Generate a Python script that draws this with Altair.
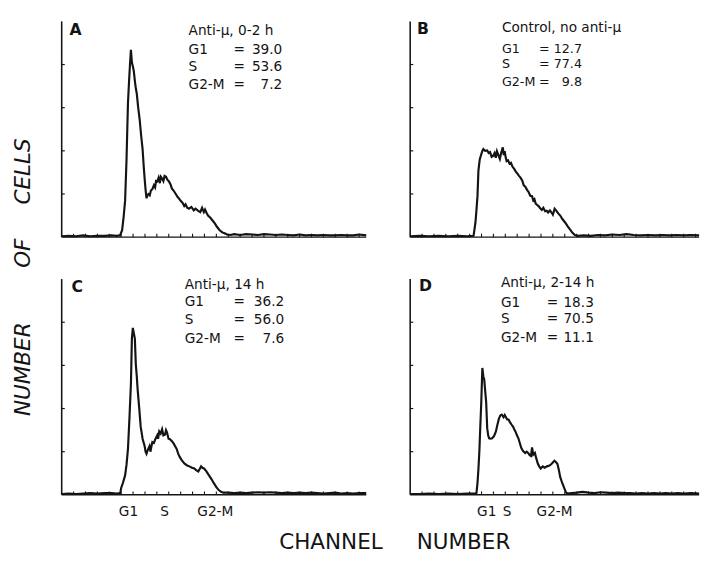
import altair as alt
import pandas as pd

INK = "#141414"
FONT = "DejaVu Sans"

# ---------------- data (channel number, relative cell count) ----------------
A_ch = [0, 6, 12, 18, 24, 30, 36, 42, 46, 49, 50.8, 52, 53.3, 54.5, 55.7, 56.6, 57.4, 58.2, 59, 59.8,
        60.6, 61.5, 62.3, 63.1, 64.3, 65.6, 66.8, 68.0, 69.0, 69.7, 70.5, 71.3, 72.2, 73.0, 74.0, 75.0,
        76.2, 77.5, 78.5, 79.3, 80.3, 81.5, 82.5, 83.4, 84.4, 85.5, 86.5, 87.7, 88.8, 90.2, 91.5, 92.6,
        94, 95.9, 97.5, 99, 100, 101.5, 103, 104.1, 105.5, 107, 109, 111, 112.5, 114.8, 116.5, 118,
        119.5, 120.5, 121.8, 123, 125, 127, 128.7, 130.5, 132.8, 135, 136.9, 139, 141.8, 145, 150, 155,
        160, 165, 170, 175, 180, 185, 190, 195, 200, 205, 210, 215, 220, 225, 230, 235, 240, 245, 250, 256]
A_ct = [0.02, 0.03, 0.02, 0.04, 0.02, 0.03, 0.03, 0.04, 0.03, 0.04, 0.16, 0.45, 0.84, 1.8, 3.10, 3.6, 4.0, 4.34, 4.05, 3.96,
        3.85, 3.62, 3.45, 3.33, 3.0, 2.71, 2.35, 2.04, 1.62, 1.36, 1.1, 0.90, 0.98, 1.00, 0.97, 1.08,
        1.11, 1.2, 1.15, 1.3, 1.29, 1.38, 1.25, 1.4, 1.36, 1.3, 1.42, 1.40, 1.33, 1.29, 1.22, 1.13,
        1.08, 1.00, 0.93, 0.88, 0.84, 0.8, 0.72, 0.76, 0.68, 0.66, 0.70, 0.62, 0.66, 0.61, 0.58, 0.68,
        0.58, 0.64, 0.56, 0.50, 0.45, 0.38, 0.32, 0.24, 0.16, 0.11, 0.09, 0.06, 0.05, 0.07, 0.05, 0.07,
        0.06, 0.05, 0.07, 0.06, 0.05, 0.06, 0.05, 0.04, 0.06, 0.04, 0.05, 0.04, 0.05, 0.04, 0.04, 0.05, 0.04, 0.04, 0.06, 0.04]

B_ch = [0, 8, 16, 24, 32, 40, 48, 53.3, 54.9, 55.8, 56.6, 57.4, 58.5, 59.8, 60.7, 61.5, 63, 64.8, 66, 67.2,
        68.5, 69.7, 71, 72, 73.0, 74.2, 75.4, 76.5, 77.9, 78.7, 79.5, 80.3, 81.1, 82.3, 83.6, 84.8, 86.1,
        87.5, 88.8, 90.2, 91.5, 92.8, 94.3, 95.5, 96.8, 98.4, 99.5, 101, 102.5, 103.5, 104.5, 105.5, 106.6,
        108, 109.5, 110.7, 112, 113.5, 114.8, 116, 117.5, 118.9, 120, 121.5, 123, 124.5, 126.2, 128, 130.3,
        132.5, 134.4, 136.5, 138.5, 141, 146, 152, 158, 164, 170, 176, 182, 188, 194, 200, 206, 212, 218,
        224, 230, 236, 243]
B_ct = [0.02, 0.03, 0.02, 0.03, 0.02, 0.03, 0.02, 0.03, 0.34, 0.65, 0.95, 1.54, 1.8, 1.92, 2.0, 2.04, 2.0, 2.01, 1.95, 1.97,
        1.86, 1.88, 1.95, 1.84, 1.99, 1.9, 1.81, 1.95, 2.08, 1.9, 1.99, 1.85, 1.76, 1.78, 1.70, 1.72, 1.63,
        1.58, 1.52, 1.47, 1.42, 1.38, 1.31, 1.2, 1.17, 1.09, 1.05, 0.96, 0.95, 0.85, 0.88, 0.78, 0.75,
        0.72, 0.66, 0.63, 0.68, 0.60, 0.61, 0.57, 0.62, 0.57, 0.52, 0.66, 0.61, 0.55, 0.50, 0.42, 0.34,
        0.25, 0.18, 0.10, 0.05, 0.03, 0.04, 0.03, 0.05, 0.04, 0.06, 0.05, 0.07, 0.05, 0.04, 0.05, 0.04, 0.05, 0.04,
        0.05, 0.04, 0.05, 0.04]

C_ch = [0, 6, 12, 18, 24, 30, 36, 42, 46, 49.2, 50, 51.5, 53.3, 54.5, 55.7, 57, 58.2, 59, 59.8, 60.6,
        61.5, 62.3, 63.1, 63.9, 65.2, 66.4, 68, 69.7, 70.5, 71.3, 72.5, 73.8, 74.6, 75.4, 76.2, 77.5, 78.7,
        80.3, 81, 82, 83.2, 84.4, 85.5, 86.9, 87.7, 88.5, 89.8, 91, 92.5, 94.3, 95.5, 96.7, 98, 99.2, 101,
        103.3, 105.5, 107.4, 109.5, 111.5, 113, 114.8, 116, 117.2, 118.5, 119.7, 121.5, 123.8, 126, 127.9,
        130, 132, 134, 136, 140, 145, 150, 155, 160, 165, 170, 175, 180, 185, 190, 195, 200, 205, 210, 215,
        220, 225, 230, 235, 240, 245, 250, 256]
C_ct = [0.02, 0.03, 0.02, 0.03, 0.04, 0.03, 0.04, 0.04, 0.03, 0.04, 0.16, 0.28, 0.45, 0.7, 1.06, 1.8, 2.58, 3.62, 3.87, 3.75,
        3.62, 3.03, 2.75, 2.42, 2.0, 1.58, 1.3, 1.13, 1.0, 0.95, 1.05, 1.13, 1.0, 1.12, 1.22, 1.2, 1.29,
        1.38, 1.3, 1.47, 1.42, 1.52, 1.38, 1.40, 1.5, 1.45, 1.3, 1.29, 1.25, 1.18, 1.12, 1.06, 0.95, 0.88, 0.8,
        0.72, 0.68, 0.66, 0.63, 0.61, 0.57, 0.54, 0.6, 0.66, 0.62, 0.61, 0.55, 0.45, 0.36, 0.27,
        0.18, 0.11, 0.07, 0.05, 0.05, 0.04, 0.05, 0.04, 0.05, 0.06, 0.05, 0.06, 0.05, 0.04, 0.05, 0.04, 0.05, 0.04, 0.05, 0.04,
        0.03, 0.04, 0.05, 0.03, 0.04, 0.03, 0.04, 0.04]

D_ch = [0, 8, 16, 24, 32, 40, 48, 52, 55.7, 56.6, 57.4, 58.2, 59, 59.8, 60.7, 61.5, 62.3, 63.1, 63.9, 64.8,
        65.6, 66.4, 67.6, 68.9, 70.5, 72.1, 73.3, 74.6, 75.8, 77, 78.5, 79.5, 80.3, 81.5, 82.8, 84, 85.2,
        86.5, 87.5, 88.5, 89.8, 91, 92.2, 93.4, 94.8, 96.7, 98, 99.2, 100.5, 101.6, 102.5, 103.5, 104.9,
        106, 107.4, 108.5, 109.8, 111.5, 113.1, 115, 117.2, 119, 121.3, 122.5, 123.8, 125, 126.2, 127.8,
        129.5, 130.8, 132, 136, 140, 145, 150, 155, 160, 165, 170, 175, 180, 185, 190, 195, 200, 205, 210,
        215, 220, 225, 230, 236, 243]
D_ct = [0.02, 0.02, 0.03, 0.02, 0.03, 0.02, 0.03, 0.03, 0.03, 0.27, 0.6, 1.02, 1.6, 2.15, 2.94, 2.75, 2.67, 2.4, 2.15, 1.54,
        1.38, 1.31, 1.3, 1.31, 1.36, 1.47, 1.62, 1.76, 1.84, 1.86, 1.8, 1.85, 1.81, 1.75, 1.74, 1.68, 1.63,
        1.58, 1.52, 1.47, 1.38, 1.31, 1.2, 1.09, 1.02, 0.97, 1.0, 0.97, 0.92, 0.90, 1.1, 0.93, 0.97,
        0.85, 0.72, 0.66, 0.61, 0.66, 0.63, 0.66, 0.68, 0.72, 0.79, 0.76, 0.72, 0.58, 0.41, 0.28,
        0.16, 0.07, 0.03, 0.04, 0.05, 0.07, 0.05, 0.04, 0.06, 0.05, 0.04, 0.05, 0.04, 0.04, 0.03, 0.04, 0.03, 0.04, 0.03,
        0.04, 0.03, 0.04, 0.03, 0.04, 0.03]

Y_TICKS = [1, 2, 3, 4]
X_TICKS = [10, 20, 30, 40, 50, 60, 70, 80, 90, 100, 110, 120, 130, 140, 150, 160, 170, 180, 190, 200,
           210, 220, 230, 240, 250]

PHASES = ["G1", "S", "G2-M"]
C_PHASE_CH = [55.7, 86.0, 128.7]
D_PHASE_CH = [64.0, 81.0, 121.0]

PANELS = {
    "A": dict(title="Anti-\u03bc, 0-2 h", values=["39.0", "53.6", "7.2"]),
    "B": dict(title="Control, no anti-\u03bc", values=["12.7", "77.4", "9.8"]),
    "C": dict(title="Anti-\u03bc, 14 h", values=["36.2", "56.0", "7.6"]),
    "D": dict(title="Anti-\u03bc, 2-14 h", values=["18.3", "70.5", "11.1"]),
}

H = 225
Y_MAX = 5.09
AXIS_TOP = 5.0


def panel(letter, ch, ct, xmax, width, lay, phase_ch=None):
    assert len(ch) == len(ct)
    xs = alt.Scale(domain=[0, xmax], nice=False, zero=False)
    ys = alt.Scale(domain=[0, Y_MAX], nice=False)
    if phase_ch is None:
        xaxis = None
    else:
        expr = ("datum.value < %f ? '%s' : datum.value < %f ? '%s' : '%s'"
                % ((phase_ch[0] + phase_ch[1]) / 2, PHASES[0],
                   (phase_ch[1] + phase_ch[2]) / 2, PHASES[1], PHASES[2]))
        xaxis = alt.Axis(values=phase_ch, labelExpr=expr, domain=False, ticks=False, grid=False,
                         labelPadding=10, labelFontSize=14, labelFont=FONT, labelColor=INK,
                         labelFlush=False, labelOverlap=False, title=None)

    def X(f):
        return alt.X(f, scale=xs, axis=xaxis)

    def Y(f):
        return alt.Y(f, scale=ys, axis=None)

    df = pd.DataFrame({"ch": ch, "ct": ct})
    curve = alt.Chart(df).mark_line(color=INK, strokeWidth=2.2, interpolate="linear").encode(
        x=X("ch:Q"), y=Y("ct:Q"))

    base_df = pd.DataFrame({"x0": [0.0], "x1": [xmax], "y0": [0.0], "y1": [AXIS_TOP]})
    yline = alt.Chart(base_df).mark_rule(color=INK, strokeWidth=1.6).encode(
        x=X("x0:Q"), y=Y("y0:Q"), y2="y1:Q")
    xline = alt.Chart(base_df).mark_rule(color=INK, strokeWidth=1.5).encode(
        x=X("x0:Q"), x2="x1:Q", y=Y("y0:Q"))

    yt_df = pd.DataFrame({"lv": Y_TICKS, "a": [0.0] * len(Y_TICKS), "b": [2.6] * len(Y_TICKS)})
    yticks = alt.Chart(yt_df).mark_rule(color=INK, strokeWidth=1.2).encode(
        x=X("a:Q"), x2="b:Q", y=Y("lv:Q"))
    xt = [t for t in X_TICKS if t < xmax]
    xt_df = pd.DataFrame({"t": xt, "lo": [0.0] * len(xt), "hi": [0.08] * len(xt)})
    xticks = alt.Chart(xt_df).mark_rule(color=INK, strokeWidth=1.1).encode(
        x=X("t:Q"), y=Y("lo:Q"), y2="hi:Q")

    info = PANELS[letter]
    fs = lay["fs"]
    lx, ly = lay["letter"]
    letter_mark = alt.Chart(pd.DataFrame({"t": [letter]})).mark_text(
        align="left", baseline="top", font=FONT, fontSize=16, fontWeight="bold", color=INK
    ).encode(text="t:N", x=alt.value(lx), y=alt.value(ly))

    tops = lay["tops"]
    title_mark = alt.Chart(pd.DataFrame({"t": [info["title"]]})).mark_text(
        align="left", baseline="top", font=FONT, fontSize=lay["tfs"], color=INK
    ).encode(text="t:N", x=alt.value(lay["tx"]), y=alt.value(tops[0]))

    layers = [yline, xline, yticks, xticks, curve, letter_mark, title_mark]
    for i in range(3):
        row = pd.DataFrame({"p": [PHASES[i]], "e": ["="], "v": [info["values"][i]]})
        base = alt.Chart(row)
        layers.append(base.mark_text(align="left", baseline="top", font=FONT, fontSize=fs, color=INK)
                      .encode(text="p:N", x=alt.value(lay["tx"]), y=alt.value(tops[i + 1])))
        layers.append(base.mark_text(align="left", baseline="top", font=FONT, fontSize=fs, color=INK)
                      .encode(text="e:N", x=alt.value(lay["ex"]), y=alt.value(tops[i + 1])))
        layers.append(base.mark_text(align=lay["valign"], baseline="top", font=FONT, fontSize=fs, color=INK)
                      .encode(text="v:N", x=alt.value(lay["vx"]), y=alt.value(tops[i + 1])))
    return alt.layer(*layers).properties(width=width, height=H)


WL, WR = 312, 296
pA = panel("A", A_ch, A_ct, 256, WL,
           dict(fs=14, tfs=14, letter=(8, 5), tx=130, ex=176, vx=226, valign="right", tops=[7, 26, 44, 62]))
pB = panel("B", B_ch, B_ct, 243, WR,
           dict(fs=13, tfs=14, letter=(7, 4), tx=94, ex=132, vx=176, valign="right", tops=[4, 26, 42, 60]))
pC = panel("C", C_ch, C_ct, 256, WL,
           dict(fs=14, tfs=14, letter=(10, 4), tx=126, ex=176, vx=228, valign="right", tops=[3, 21, 39, 58]),
           phase_ch=C_PHASE_CH)
pD = panel("D", D_ch, D_ct, 243, WR,
           dict(fs=14, tfs=14, letter=(9, 3), tx=93, ex=140, vx=157, valign="left", tops=[1, 22, 38, 57]),
           phase_ch=D_PHASE_CH)

grid = alt.vconcat(
    alt.hconcat(pA, pB, spacing=35),
    alt.hconcat(pC, pD, spacing=35),
    spacing=35,
)

ylab_text = "NUMBER" + "\u00a0" * 8 + "OF" + "\u00a0" * 5 + "CELLS"
ylab = alt.Chart(pd.DataFrame({"t": [ylab_text]})).mark_text(
    angle=270, font=FONT, fontSize=22, fontStyle="italic", color=INK, baseline="middle", align="center"
).encode(text="t:N", x=alt.value(16), y=alt.value(266)).properties(width=32, height=486)

xlab_text = "CHANNEL" + "\u00a0" * 5 + "NUMBER"
chart = alt.hconcat(ylab, grid, spacing=18).properties(
    padding={"left": 0, "top": 3, "right": 0, "bottom": 0},
    title=alt.TitleParams(
        xlab_text, orient="bottom", anchor="middle",
        font=FONT, fontSize=22, fontWeight="normal", color=INK, offset=14, dx=40,
    ),
).configure(background="white").configure_view(stroke=None)

chart.save("out.html", embed_options={"renderer": "svg", "actions": False})
